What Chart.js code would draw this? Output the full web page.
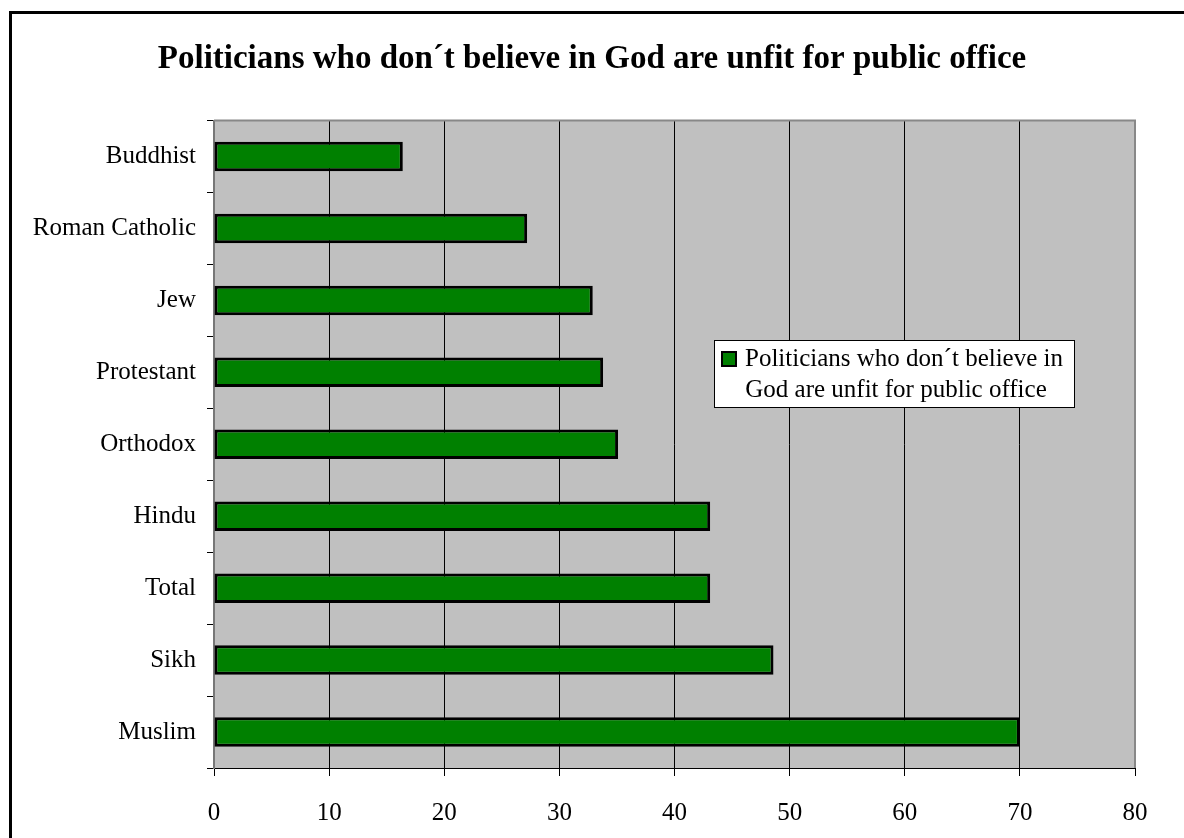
<!DOCTYPE html>
<html>
<head>
<meta charset="utf-8">
<script src="https://cdn.jsdelivr.net/npm/chart.js@4"></script>
<style>
  html, body { margin: 0; padding: 0; background: #fff; }
  #wrap { position: relative; width: 1184px; height: 838px; }
</style>
</head>
<body>
<div id="wrap"><canvas id="chart" width="1184" height="838"></canvas></div>
<script>
const categories = ['Buddhist', 'Roman Catholic', 'Jew', 'Protestant', 'Orthodox', 'Hindu', 'Total', 'Sikh', 'Muslim'];
const values = [16.4, 27.2, 32.9, 33.8, 35.1, 43.1, 43.1, 48.6, 70.0];
const seriesName = 'Politicians who don\u00b4t believe in God are unfit for public office';
const legendLines = ['Politicians who don\u00b4t believe in', 'God are unfit for public office'];
const xTicks = [0, 10, 20, 30, 40, 50, 60, 70, 80];

const serif = '"Liberation Serif", "Times New Roman", serif';

// grey plot area, frame and the boxed legend
const decor = {
    id: 'decor',
    beforeDraw(chart) {
        const { ctx, chartArea: a } = chart;
        ctx.save();
        ctx.fillStyle = '#c0c0c0';
        ctx.fillRect(a.left, a.top, a.right - a.left, a.bottom - a.top);
        // outer frame (only left and top visible)
        ctx.strokeStyle = '#000';
        ctx.lineWidth = 3;
        ctx.beginPath();
        ctx.moveTo(10.5, 900);
        ctx.lineTo(10.5, 12.5);
        ctx.lineTo(1200, 12.5);
        ctx.stroke();
        ctx.restore();
    },
    afterDraw(chart) {
        const { ctx, chartArea: a } = chart;
        ctx.save();
        ctx.strokeStyle = '#888';
        ctx.lineWidth = 2;
        ctx.beginPath();
        ctx.moveTo(a.left, a.top);
        ctx.lineTo(a.right, a.top);
        ctx.lineTo(a.right, a.bottom);
        ctx.stroke();

        // legend
        const x = 714, y = 340, w = 360, h = 67;
        ctx.fillStyle = '#fff';
        ctx.fillRect(x, y, w, h);
        ctx.strokeStyle = '#000';
        ctx.lineWidth = 1;
        ctx.strokeRect(x + 0.5, y + 0.5, w, h);
        ctx.fillStyle = '#008000';
        ctx.fillRect(722, 352, 14, 14);
        ctx.lineWidth = 2;
        ctx.strokeRect(722, 352, 14, 14);
        ctx.fillStyle = '#000';
        ctx.font = '25px ' + serif;
        ctx.textBaseline = 'middle';
        ctx.textAlign = 'left';
        ctx.fillText(legendLines[0], 745, 359);
        ctx.textAlign = 'center';
        ctx.fillText(legendLines[1], 896, 390);
        ctx.restore();
    }
};

new Chart(document.getElementById('chart'), {
    type: 'bar',
    data: {
        labels: categories,
        datasets: [{
            label: seriesName,
            data: values,
            backgroundColor: '#008000',
            borderColor: '#000',
            borderWidth: 3,
            borderSkipped: false,
            categoryPercentage: 1,
            barPercentage: 0.41
        }]
    },
    options: {
        indexAxis: 'y',
        responsive: false,
        animation: false,
        layout: { padding: 0 },
        plugins: {
            legend: { display: false },
            tooltip: { enabled: false },
            title: {
                display: true,
                text: seriesName,
                color: '#000',
                font: { family: serif, size: 33, weight: 'bold', lineHeight: 1.2 },
                padding: { top: 40, bottom: 41 }
            }
        },
        scales: {
            x: {
                min: 0,
                max: 80,
                afterBuildTicks(scale) {
                    scale.ticks = xTicks.map(v => ({ value: v }));
                },
                afterFit(scale) { scale.height = 70; },
                grid: { color: '#000', lineWidth: 1, tickLength: 8, drawTicks: true },
                border: { color: '#000', width: 1 },
                ticks: { color: '#000', padding: 22, font: { family: serif, size: 25 } }
            },
            y: {
                afterFit(scale) { scale.width = 214; },
                grid: { drawOnChartArea: false, drawTicks: true, tickLength: 7, color: '#000', offset: true },
                border: { color: '#777', width: 2 },
                ticks: { color: '#000', padding: 11, font: { family: serif, size: 25 } }
            },
            // empty spacer on the right so the plot stops at the same place
            spacer: {
                type: 'linear',
                position: 'right',
                axis: 'y',
                afterFit(scale) { scale.width = 49; },
                grid: { display: false },
                border: { display: false },
                ticks: { display: false }
            }
        }
    },
    plugins: [decor]
});
</script>
</body>
</html>
